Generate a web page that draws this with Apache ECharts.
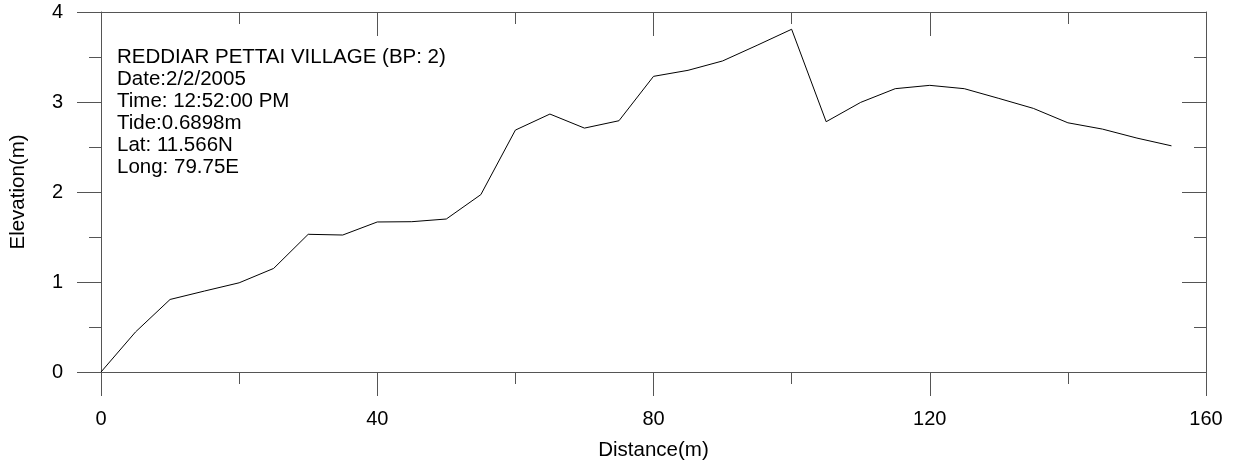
<!DOCTYPE html>
<html>
<head>
<meta charset="utf-8">
<script src="https://cdn.jsdelivr.net/npm/echarts@6/dist/echarts.min.js"></script>
<style>
html,body{margin:0;padding:0;background:#fff;}
#chart{width:1234px;height:467px;}
</style>
</head>
<body>
<div id="chart"></div>
<script>
const distance = [0,5,10,15,20,25,30,35,40,45,50,55,60,65,70,75,80,85,90,95,100,105,110,115,120,125,130,135,140,145,150,155];
const elevation = [0,0.445,0.806,0.90,0.991,1.151,1.530,1.522,1.667,1.670,1.700,1.971,2.688,2.866,2.710,2.792,3.285,3.352,3.456,3.630,3.808,2.781,2.996,3.148,3.185,3.148,3.04,2.929,2.769,2.699,2.599,2.513];
const infoLines = [
  'REDDIAR PETTAI VILLAGE (BP: 2)',
  'Date:2/2/2005',
  'Time: 12:52:00 PM',
  'Tide:0.6898m',
  'Lat: 11.566N',
  'Long: 79.75E'
];
const xTitle = 'Distance(m)';
const yTitle = 'Elevation(m)';

const FONT = 'Liberation Sans, Arial, sans-serif';
const AX = '#555';
const chart = echarts.init(document.getElementById('chart'));
const baseX = {
  type: 'value', min: 0, max: 160, interval: 40,
  axisLine: {show: true, onZero: false, lineStyle: {color: AX, width: 1}},
  splitLine: {show: false},
  minorTick: {show: true, splitNumber: 2, length: 12, lineStyle: {color: AX, width: 1}},
  axisTick: {show: true, length: 24, lineStyle: {color: AX, width: 1}}
};
const baseY = {
  type: 'value', min: 0, max: 4, interval: 1,
  axisLine: {show: true, onZero: false, lineStyle: {color: AX, width: 1}},
  splitLine: {show: false},
  minorTick: {show: true, splitNumber: 2, length: 12, lineStyle: {color: AX, width: 1}},
  axisTick: {show: true, length: 24, lineStyle: {color: AX, width: 1}}
};
chart.setOption({
  animation: false,
  backgroundColor: '#fff',
  grid: {left: 100, right: 28, top: 12, bottom: 95, containLabel: false},
  title: {
    text: infoLines.join('\n'),
    left: 117, top: 46, padding: 0,
    textStyle: {fontFamily: FONT, fontSize: 20.5, fontWeight: 'normal', color: '#000', lineHeight: 22}
  },
  xAxis: [
    Object.assign({}, baseX, {
      position: 'bottom',
      name: xTitle, nameLocation: 'middle', nameGap: 68,
      nameTextStyle: {fontFamily: FONT, fontSize: 20.5, color: '#000'},
      axisTick: Object.assign({}, baseX.axisTick, {inside: false}),
      axisLabel: {show: true, margin: 37, fontFamily: FONT, fontSize: 20, color: '#000'}
    }),
    Object.assign({}, baseX, {
      position: 'top',
      axisTick: Object.assign({}, baseX.axisTick, {inside: true}),
      axisLabel: {show: false}
    })
  ],
  yAxis: [
    Object.assign({}, baseY, {
      position: 'left',
      name: yTitle, nameLocation: 'middle', nameGap: 72,
      nameTextStyle: {fontFamily: FONT, fontSize: 20.5, color: '#000'},
      axisTick: Object.assign({}, baseY.axisTick, {inside: false}),
      axisLabel: {show: true, margin: 38, fontFamily: FONT, fontSize: 20, color: '#000'}
    }),
    Object.assign({}, baseY, {
      position: 'right',
      axisTick: Object.assign({}, baseY.axisTick, {inside: true}),
      axisLabel: {show: false}
    })
  ],
  series: [{
    type: 'line',
    xAxisIndex: 0, yAxisIndex: 0,
    data: distance.map((d, i) => [d, elevation[i]]),
    showSymbol: false, symbol: 'none',
    lineStyle: {color: '#000', width: 1},
    silent: true
  }]
});
</script>
</body>
</html>
